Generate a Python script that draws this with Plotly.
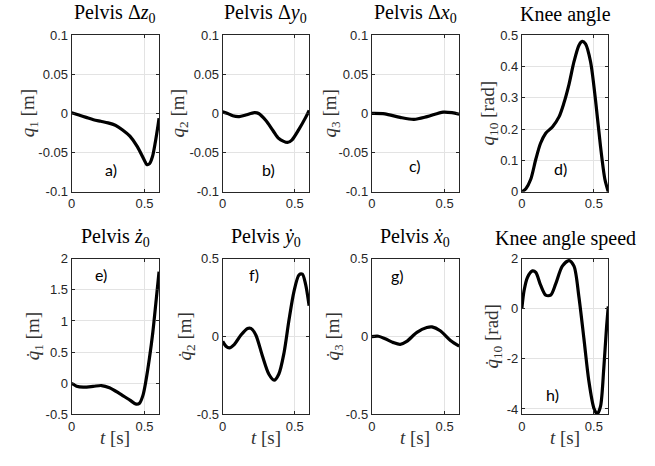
import plotly.graph_objects as go

W, H = 655, 466

# ---------------- data ----------------
t_q1 = [0, 0.05, 0.1, 0.15, 0.2, 0.25, 0.3, 0.35, 0.4, 0.45, 0.5, 0.515, 0.535, 0.555, 0.575, 0.59, 0.6]
q1 = [0.001, -0.002, -0.005, -0.008, -0.010, -0.012, -0.015, -0.021, -0.029, -0.042, -0.060, -0.065, -0.064, -0.055, -0.036, -0.019, -0.006]

t_q2 = [0, 0.035, 0.07, 0.115, 0.16, 0.22, 0.25, 0.3, 0.35, 0.39, 0.45, 0.48, 0.53, 0.576, 0.6]
q2 = [0.002, 0.0, -0.003, -0.004, -0.002, 0.001, 0.0, -0.009, -0.022, -0.032, -0.037, -0.034, -0.020, -0.005, 0.004]

t_q3 = [0, 0.09, 0.195, 0.29, 0.38, 0.49, 0.55, 0.6]
q3 = [0.0, -0.0005, -0.005, -0.0075, -0.004, 0.0017, 0.001, -0.001]

t_q10 = [0, 0.028, 0.062, 0.097, 0.13, 0.166, 0.212, 0.258, 0.29, 0.327, 0.362, 0.396, 0.419, 0.442, 0.477, 0.512, 0.546, 0.576, 0.6]
q10 = [0.0, 0.01, 0.04, 0.104, 0.155, 0.187, 0.207, 0.239, 0.28, 0.342, 0.415, 0.467, 0.48, 0.472, 0.415, 0.29, 0.145, 0.041, 0.0]

t_dq1 = [0, 0.034, 0.08, 0.148, 0.205, 0.26, 0.33, 0.4, 0.443, 0.466, 0.49, 0.51, 0.534, 0.557, 0.58, 0.6]
dq1 = [0.0, -0.046, -0.062, -0.05, -0.036, -0.07, -0.165, -0.27, -0.335, -0.32, -0.19, 0.04, 0.40, 0.81, 1.33, 1.79]

t_dq2 = [0, 0.023, 0.046, 0.08, 0.127, 0.173, 0.196, 0.23, 0.276, 0.32, 0.357, 0.39, 0.426, 0.46, 0.495, 0.53, 0.553, 0.576, 0.6]
dq2 = [-0.031, -0.062, -0.073, -0.052, 0.01, 0.052, 0.052, 0.01, -0.125, -0.24, -0.28, -0.24, -0.104, 0.104, 0.29, 0.396, 0.40, 0.333, 0.198]

t_dq3 = [0, 0.046, 0.092, 0.149, 0.195, 0.24, 0.31, 0.378, 0.413, 0.47, 0.54, 0.6]
dq3 = [0.0, 0.002, -0.014, -0.039, -0.05, -0.031, 0.027, 0.058, 0.062, 0.037, -0.025, -0.062]

t_dq10 = [0, 0.016, 0.039, 0.074, 0.097, 0.131, 0.166, 0.2, 0.235, 0.281, 0.327, 0.362, 0.396, 0.431, 0.465, 0.5, 0.523, 0.546, 0.569, 0.587, 0.6]
dq10 = [0.0, 0.735, 1.25, 1.51, 1.45, 0.93, 0.54, 0.54, 0.99, 1.70, 1.92, 1.70, 0.48, -1.2, -2.88, -3.97, -4.2, -3.9, -2.36, -0.81, 0.09]

titles = ["Pelvis Δ<i>z</i><sub>0</sub>", "Pelvis Δ<i>y</i><sub>0</sub>", "Pelvis Δ<i>x</i><sub>0</sub>", "Knee angle",
          "Pelvis <i>ż</i><sub>0</sub>", "Pelvis <i>ẏ</i><sub>0</sub>", "Pelvis <i>ẋ</i><sub>0</sub>", "Knee angle speed"]
ylabels = ["<i>q</i><sub>1</sub> [m]", "<i>q</i><sub>2</sub> [m]", "<i>q</i><sub>3</sub> [m]", "<i>q</i><sub>10</sub> [rad]",
           "<i>q̇</i><sub>1</sub> [m]", "<i>q̇</i><sub>2</sub> [m]", "<i>q̇</i><sub>3</sub> [m]", "<i>q̇</i><sub>10</sub> [rad]"]
letters = ["a)", "b)", "c)", "d)", "e)", "f)", "g)", "h)"]
letter_t = [0.27, 0.32, 0.30, 0.27, 0.20, 0.22, 0.18, 0.21]
letter_y = [-0.0716, -0.0716, -0.067, 0.074, 1.75, 0.40, 0.39, -3.41]

yranges = [[-0.1, 0.1], [-0.1, 0.1], [-0.1, 0.1], [0, 0.5], [-0.5, 2], [-0.5, 0.5], [-0.5, 0.5], [-4.22, 2]]
ytickvals = [[-0.1, -0.05, 0, 0.05, 0.1]] * 3 + [[0, 0.1, 0.2, 0.3, 0.4, 0.5]] + \
            [[-0.5, 0, 0.5, 1, 1.5, 2], [-0.5, 0, 0.5], [-0.5, 0, 0.5], [-4, -2, 0, 2]]
yticktext = [["-0.1", "-0.05", "0", "0.05", "0.1"]] * 3 + [["0", "0.1", "0.2", "0.3", "0.4", "0.5"]] + \
            [["-0.5", "0", "0.5", "1", "1.5", "2"], ["-0.5", "0", "0.5"], ["-0.5", "0", "0.5"], ["-4", "-2", "0", "2"]]
xtickvals = [0, 0.5]
xticktext = ["0", "0.5"]

series = [(t_q1, q1), (t_q2, q2), (t_q3, q3), (t_q10, q10),
          (t_dq1, dq1), (t_dq2, dq2), (t_dq3, dq3), (t_dq10, dq10)]

# ---------------- layout geometry (pixels) ----------------
xpix = [(68, 156), (220, 307), (370, 458), (521, 608)]
ypix = [(29, 191), (260, 421)]
ylab_off = [-42, -43, -41, -33, -38, -37, -38, -29]

AX = "#262626"
SERIF = "Liberation Serif"

fig = go.Figure()
layout = dict(width=W, height=H, margin=dict(l=0, r=0, t=0, b=0),
              paper_bgcolor="white", plot_bgcolor="white", showlegend=False)
annotations = []

for i in range(8):
    r, c = divmod(i, 4)
    x0, x1 = xpix[c]
    y0, y1 = ypix[r]
    n = "" if i == 0 else str(i + 1)
    t, y = series[i]
    fig.add_trace(go.Scatter(x=t, y=y, mode="lines", xaxis="x" + n, yaxis="y" + n,
                             line=dict(color="black", width=3.2, shape="spline", smoothing=0.8),
                             hoverinfo="skip"))
    common = dict(showline=True, linecolor=AX, linewidth=1, mirror="ticks",
                  ticks="inside", ticklen=3, tickcolor=AX, tickwidth=1,
                  showgrid=True, gridcolor="#e3e3e3", gridwidth=1, zeroline=False,
                  tickfont=dict(family="Liberation Sans", size=13, color=AX))
    layout["xaxis" + n] = dict(domain=[x0 / W, x1 / W], range=[0, 0.6], anchor="y" + n,
                               tickvals=xtickvals, ticktext=xticktext, **common)
    layout["yaxis" + n] = dict(domain=[1 - y1 / H, 1 - y0 / H], range=yranges[i], anchor="x" + n,
                               tickvals=ytickvals[i], ticktext=yticktext[i], **common)
    # title
    annotations.append(dict(text=titles[i], xref="paper", yref="paper",
                            x=(x0 + x1) / 2 / W, y=1 - (y0 - 7) / H, xanchor="center", yanchor="bottom",
                            showarrow=False, font=dict(family=SERIF, size=20, color="black")))
    # y label
    annotations.append(dict(text=ylabels[i], xref="paper", yref="paper",
                            x=(x0 + ylab_off[i]) / W, y=1 - ((y0 + y1) / 2) / H,
                            xanchor="center", yanchor="middle", textangle=-90,
                            showarrow=False, font=dict(family=SERIF, size=19, color="#333333")))
    # letter
    annotations.append(dict(text=letters[i], xref="x" + n, yref="y" + n,
                            x=letter_t[i], y=letter_y[i], xanchor="center", yanchor="middle",
                            showarrow=False, font=dict(family="Lato", size=16, color="black")))
    if r == 1:
        annotations.append(dict(text="<i>t</i> [s]", xref="paper", yref="paper",
                                x=(x0 + x1) / 2 / W, y=1 - 445 / H, xanchor="center", yanchor="middle",
                                showarrow=False, font=dict(family=SERIF, size=19, color="#333333")))

layout["annotations"] = annotations
fig.update_layout(**layout)
fig.write_html("out.html")
